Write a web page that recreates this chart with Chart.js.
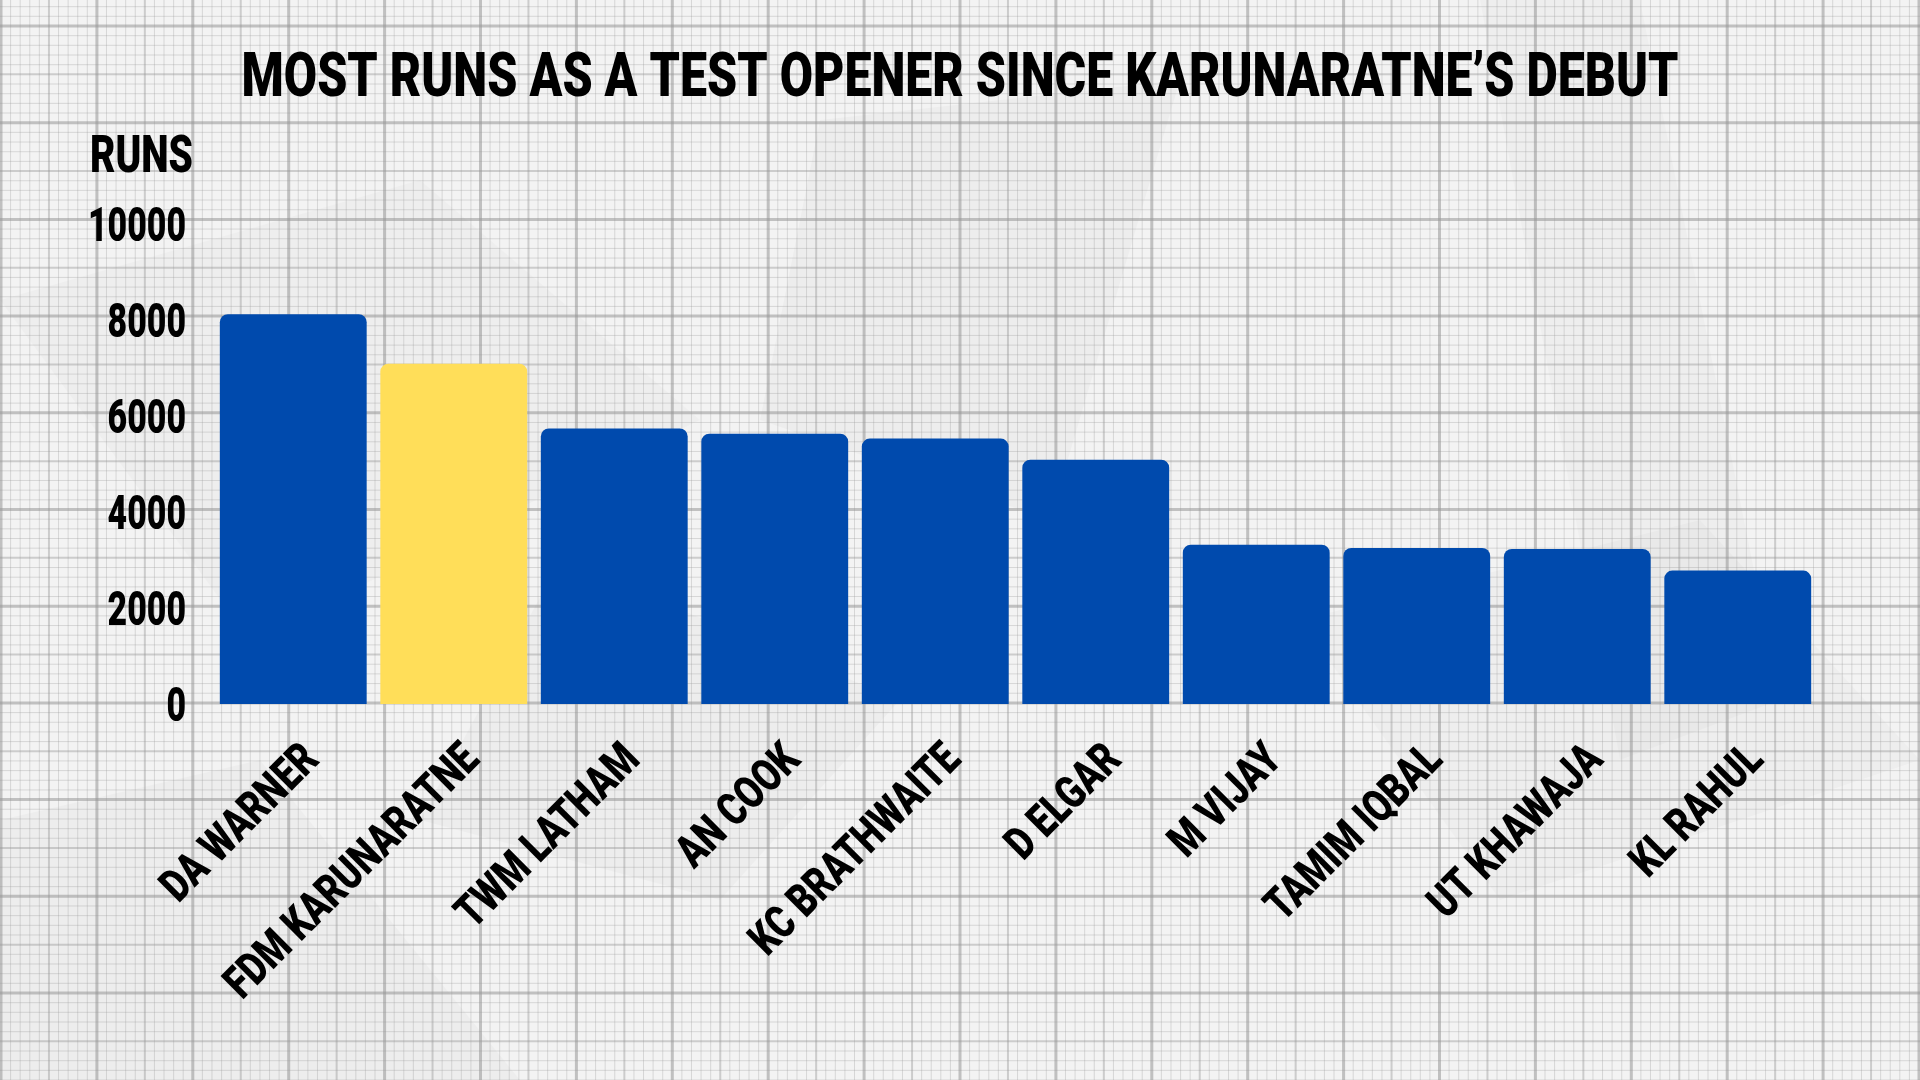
<!DOCTYPE html>
<html>
<head>
<meta charset="utf-8">
<style>
html,body{margin:0;padding:0;background:#f1f1f1;overflow:hidden;}
#wrap{width:1920px;height:1080px;position:relative;}
canvas{display:block;}
</style>
</head>
<body>
<div id="wrap"><canvas id="c" width="1920" height="1080"></canvas></div>
<script src="https://cdn.jsdelivr.net/npm/chart.js@4.4.0/dist/chart.umd.min.js"></script>
<script>
// ---- data ----
const categories = ['DA WARNER','FDM KARUNARATNE','TWM LATHAM','AN COOK','KC BRATHWAITE','D ELGAR','M VIJAY','TAMIM IQBAL','UT KHAWAJA','KL RAHUL'];
const runs = [8120, 7090, 5740, 5630, 5530, 5090, 3320, 3250, 3230, 2780];
const highlightPlayer = 'FDM KARUNARATNE';
const yTicks = [0, 2000, 4000, 6000, 8000, 10000];
const titleText = 'MOST RUNS AS A TEST OPENER SINCE KARUNARATNE\u2019S DEBUT';
const yAxisTitle = 'RUNS';

// ---- styles ----
const BLUE = '#004AAD';
const YELLOW = '#FFDE59';
const FONT = 'Roboto';
const barColors = categories.map(c => c === highlightPlayer ? YELLOW : BLUE);

function condensedText(ctx, text, x, y, size, sx, align, rot) {
  ctx.save();
  ctx.translate(x, y);
  if (rot) ctx.rotate(rot);
  ctx.scale(sx, 1);
  ctx.font = '900 ' + size + 'px ' + FONT;
  ctx.textAlign = align;
  ctx.textBaseline = 'alphabetic';
  ctx.fillStyle = '#000';
  ctx.fillText(text, 0, 0);
  ctx.restore();
}
function fitScale(ctx, text, size, target) {
  ctx.save();
  ctx.font = '900 ' + size + 'px ' + FONT;
  const w = ctx.measureText(text).width;
  ctx.restore();
  return target / w;
}

const paperPlugin = {
  id: 'paper',
  beforeDraw(chart) {
    const ctx = chart.ctx;
    const W = chart.width, H = chart.height;
    ctx.save();
    ctx.fillStyle = '#f3f3f3';
    ctx.fillRect(0, 0, W, H);
    // faint crumple shading
    const shades = [
      [[0,300],[420,180],[700,420],[250,640]],
      [[820,120],[1180,80],[1050,520],[760,420]],
      [[1480,0],[1640,0],[1780,700],[1620,760]],
      [[0,820],[260,760],[520,1080],[0,1080]],
      [[1300,620],[1700,520],[1920,760],[1500,900]],
      [[560,560],[900,700],[720,900],[420,820]]
    ];
    shades.forEach((p, i) => {
      ctx.beginPath();
      ctx.moveTo(p[0][0], p[0][1]);
      for (let k = 1; k < p.length; k++) ctx.lineTo(p[k][0], p[k][1]);
      ctx.closePath();
      ctx.fillStyle = i % 2 ? 'rgba(0,0,0,0.025)' : 'rgba(0,0,0,0.018)';
      ctx.fill();
    });
    // graph-paper grid
    const cx = 95.9 / 10, cy = 96.7 / 10;
    for (let i = 0; i * cx <= W + 2; i++) {
      const x = 1 + i * cx;
      let lw = 1, col = 'rgba(150,150,150,0.3)';
      if (i % 10 === 0) { lw = 3; col = 'rgba(150,150,150,0.55)'; }
      else if (i % 5 === 0) { lw = 2; col = 'rgba(150,150,150,0.42)'; }
      ctx.beginPath(); ctx.strokeStyle = col; ctx.lineWidth = lw;
      ctx.moveTo(x, 0); ctx.lineTo(x, H); ctx.stroke();
    }
    for (let i = -3; 26 + i * cy <= H + 2; i++) {
      const y = 26 + i * cy;
      const m = ((i % 10) + 10) % 10;
      let lw = 1, col = 'rgba(150,150,150,0.3)';
      if (m === 0) { lw = 3; col = 'rgba(150,150,150,0.55)'; }
      else if (m === 5) { lw = 2; col = 'rgba(150,150,150,0.42)'; }
      ctx.beginPath(); ctx.strokeStyle = col; ctx.lineWidth = lw;
      ctx.moveTo(0, y); ctx.lineTo(W, y); ctx.stroke();
    }
    ctx.restore();
  }
};

const textPlugin = {
  id: 'texts',
  afterDraw(chart) {
    const ctx = chart.ctx;
    const xs = chart.scales.x, ys = chart.scales.y;
    // title
    const tSize = 62;
    const tsx = fitScale(ctx, titleText, tSize, 1437);
    condensedText(ctx, titleText, 960, 95.5, tSize, tsx, 'center', 0);
    // y axis title
    const rSize = 52;
    const rsx = fitScale(ctx, yAxisTitle, rSize, 103);
    condensedText(ctx, yAxisTitle, 90, 172, rSize, rsx, 'left', 0);
    // y tick labels
    const tickSize = 48;
    const tickSx = fitScale(ctx, '10000', tickSize, 98);
    yTicks.forEach(v => {
      const y = ys.getPixelForValue(v);
      condensedText(ctx, String(v), 186, y + tickSize * 0.711 / 2, tickSize, tickSx, 'right', 0);
    });
    // x labels rotated
    const lSize = 46;
    const lsx = fitScale(ctx, 'FDM KARUNARATNE', lSize, 338);
    categories.forEach((c, i) => {
      const x = xs.getPixelForValue(i);
      const ax = x + 16, ay = ys.getPixelForValue(0) + 46;
      const off = lSize * 0.711 / 2;
      const bx = ax + off * Math.SQRT1_2, by = ay + off * Math.SQRT1_2;
      condensedText(ctx, c, bx, by, lSize, lsx, 'right', -Math.PI / 4);
    });
  }
};

new Chart(document.getElementById('c'), {
  type: 'bar',
  data: {
    labels: categories,
    datasets: [{
      label: yAxisTitle,
      data: runs,
      backgroundColor: barColors,
      borderWidth: 0,
      borderRadius: 8,
      borderSkipped: 'start',
      barPercentage: 0.915,
      categoryPercentage: 1.0
    }]
  },
  options: {
    responsive: false,
    animation: false,
    devicePixelRatio: 1,
    layout: { padding: { left: 213, right: 102, top: 224, bottom: 376 } },
    plugins: { legend: { display: false }, tooltip: { enabled: false }, title: { display: false } },
    scales: {
      x: { display: false },
      y: { display: false, min: 0, max: 10000 }
    }
  },
  plugins: [paperPlugin, textPlugin]
});
</script>
</body>
</html>
